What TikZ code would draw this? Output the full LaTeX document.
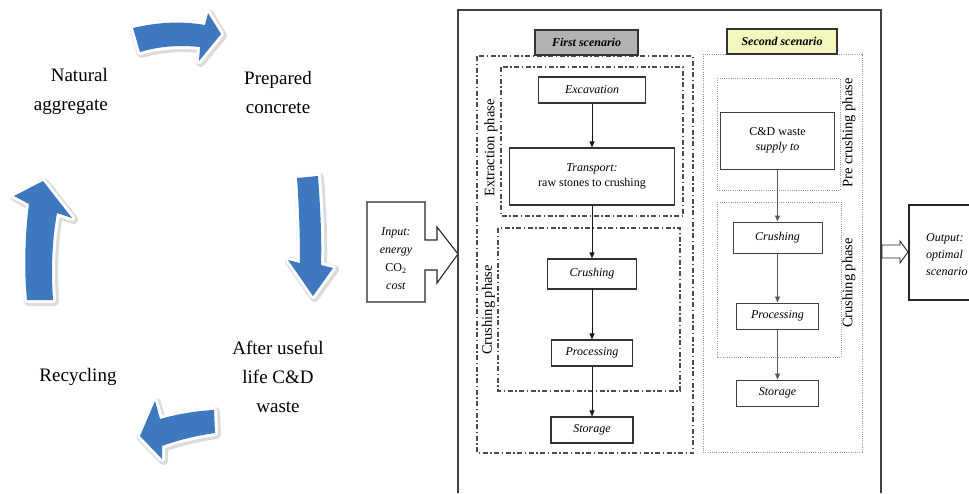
\documentclass[tikz,border=0pt]{standalone}
\usepackage{fontspec}
\setmainfont{Liberation Serif}
\usetikzlibrary{arrows.meta}
\definecolor{cycblue}{RGB}{62,121,191}
\definecolor{scentwo}{RGB}{243,246,189}
\newcommand\cycarrow[1]{%
  \path[fill=black!14,draw=black!14,line width=9pt,line join=round,shift={(1.5,1.5)}] #1;
  \path[fill=white,draw=white,line width=6pt,line join=round] #1;
  \path[fill=cycblue] #1;}
\begin{document}
\begin{tikzpicture}[x=1pt,y=-1pt,
  cyclab/.style={font=\fontsize{19}{29}\selectfont,inner sep=0pt,align=center},
  stepbox/.style={draw=black!80,line width=1.1pt,fill=white,inner sep=0pt,
     font=\fontsize{12}{15}\selectfont\itshape,align=center},
  stepboxb/.style={stepbox,draw=black!75,line width=1pt},
  scenlab/.style={draw=black!80,line width=1.1pt,inner sep=0pt,minimum height=25pt,
     font=\fontsize{12}{14}\selectfont\itshape\bfseries},
  phaselab/.style={rotate=90,inner sep=0pt,font=\fontsize{14.5}{17}\selectfont},
  dashdot/.style={draw=black!70,line width=1.2pt,dash pattern=on 5pt off 2.5pt on 1.5pt off 2.5pt},
  dotbox/.style={draw=black!40,line width=0.9pt,dash pattern=on 1pt off 1.2pt},
  flow/.style={draw=black!90,line width=0.9pt,-{Triangle[length=6pt,width=5pt]}},
  flowb/.style={draw=black!65,line width=0.9pt,-{Triangle[length=6pt,width=5pt]}},
  frame/.style={draw=black!75,line width=1.2pt},
  iobox/.style={draw=black!85,line width=1.1pt,line join=miter},
  iotext/.style={inner sep=0pt,align=center,font=\fontsize{12}{18}\selectfont}]
\useasboundingbox (0,0) rectangle (969,493);

% ---------- cycle ----------
\cycarrow{(133,28) .. controls (158,22) and (182,21) .. (205,25) -- (208,13) -- (221,34) -- (199,61) -- (200,47) .. controls (180,45) and (160,46) .. (140,52) -- cycle}
\cycarrow{(297,178) -- (318,176) .. controls (320,205) and (322,235) .. (321,265) -- (333,268) -- (313,296) -- (288,260) -- (300,263) .. controls (300,235) and (299,205) .. (297,178) -- cycle}
\cycarrow{(215,433) .. controls (195,436) and (178,440) .. (162,446) -- (162,459) -- (140,436) -- (155,401) -- (160,419) .. controls (178,414) and (195,411) .. (214,410) -- cycle}
\cycarrow{(27,300) .. controls (24,270) and (25,235) .. (29,204) -- (14,196) -- (43,181) -- (72,218) -- (57,213) .. controls (52,240) and (51,270) .. (53,300) -- cycle}

\node[cyclab,anchor=east,align=right] (nat) at (108,91) {Natural\\aggregate};
\node[cyclab] (prep) at (278,92) {Prepared\\concrete};
\node[cyclab] (after) at (278,377) {After useful\\life C\&D\\waste};
\node[cyclab] (recy) at (78,377) {Recycling};

% ---------- input ----------
\draw[iobox] (367,202) -- (425,202) -- (425,240) -- (437,240) -- (437,227) -- (458,254)
   -- (437,283) -- (437,270) -- (425,270) -- (425,302) -- (367,302) -- cycle;
\node[iotext] (input) at (396,259) {\textit{Input:}\\\textit{energy}\\CO\textsubscript{2}\\\textit{cost}};

% ---------- main frame ----------
\draw[frame] (458,493) -- (458,10) -- (881,10) -- (881,493);

% ---------- first scenario ----------
\draw[dashdot] (477,56) rectangle (693,453);
\draw[dashdot] (501,67) rectangle (683,216);
\draw[dashdot] (498,228) rectangle (680,391);
\node[scenlab,fill=black!30,minimum width=103pt] (s1) at (586.5,42.5) {First scenario};
\node[phaselab] (ext) at (491,148) {Extraction phase};
\node[phaselab] (cph1) at (488.5,310) {Crushing phase};

\node[stepbox,minimum width=107pt,minimum height=26pt] (exc) at (592,90) {Excavation};
\node[stepbox,minimum width=165pt,minimum height=57pt] (trans) at (592,176.5) {Transport:\\\upshape raw stones to crushing};
\node[stepbox,minimum width=89pt,minimum height=30pt] (cr1) at (592,274) {Crushing};
\node[stepbox,minimum width=81pt,minimum height=26pt] (pr1) at (592,353) {Processing};
\node[stepbox,minimum width=82pt,minimum height=26pt] (st1) at (592,430) {Storage};
\draw[flow] (exc) -- (trans);
\draw[flow] (trans) -- (cr1);
\draw[flow] (cr1) -- (pr1);
\draw[flow] (pr1) -- (st1);

% ---------- second scenario ----------
\draw[dotbox] (703,54) rectangle (862,452);
\draw[dotbox] (717,78) rectangle (840,190);
\draw[dotbox] (717,202) rectangle (841,357);
\node[scenlab,fill=scentwo,minimum width=110pt] (s2) at (782,41.5) {Second scenario};
\node[phaselab] (pre) at (849,133) {Pre crushing phase};
\node[phaselab] (cph2) at (849,283) {Crushing phase};

\node[stepboxb,minimum width=114pt,minimum height=57pt] (cd) at (777.5,140.5) {\upshape C\&D waste\\\textit{supply} to};
\node[stepboxb,minimum width=89pt,minimum height=31pt] (cr2) at (777.5,237.5) {Crushing};
\node[stepboxb,minimum width=82pt,minimum height=26pt] (pr2) at (777.5,316) {Processing};
\node[stepboxb,minimum width=82pt,minimum height=26pt] (st2) at (777.5,393) {Storage};
\draw[flowb] (cd) -- (cr2);
\draw[flowb] (cr2) -- (pr2);
\draw[flowb] (pr2) -- (st2);

% ---------- output ----------
\draw[iobox,line width=0.9pt] (882,245) -- (900,245) -- (900,241) -- (908,252) -- (900,263)
   -- (900,258) -- (882,258) -- cycle;
\draw[iobox] (969,205) -- (909,205) -- (909,300) -- (969,300);
\node[iotext,anchor=west,align=left,font=\fontsize{12}{17}\selectfont\itshape] (output) at (926,255) {Output:\\optimal\\scenario};
\end{tikzpicture}
\end{document}
